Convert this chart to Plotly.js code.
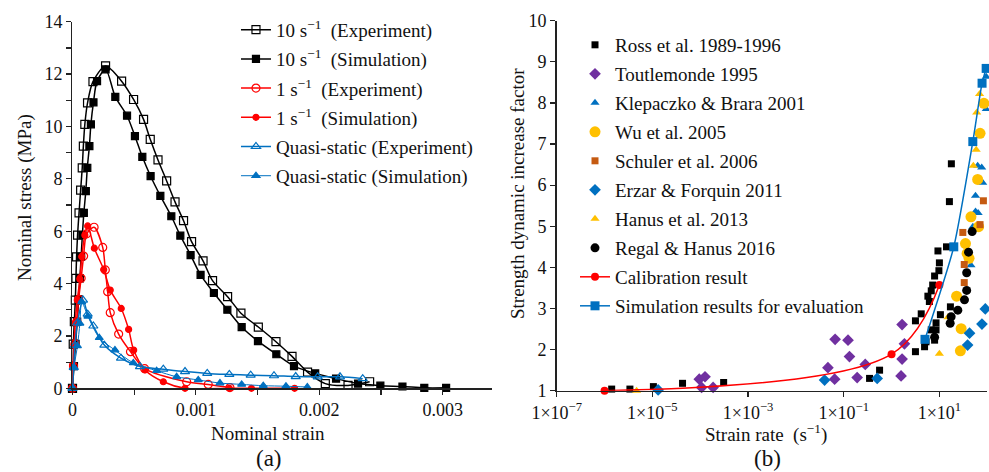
<!DOCTYPE html>
<html>
<head>
<meta charset="utf-8">
<script src="https://cdn.plot.ly/plotly-3.0.1.min.js"></script>
<style>html,body{margin:0;padding:0;background:#fff}#chart{width:989px;height:472px}</style>
</head>
<body>
<div id="chart"></div>
<script>
// ---------- Panel (a): nominal stress vs nominal strain ----------
const exp10_x = [0, 0.000006, 0.000015, 0.000023, 0.000028, 0.000033, 0.000041, 0.000053, 0.000066, 0.000079, 0.000088, 0.0001, 0.000122, 0.000166, 0.000268, 0.000398, 0.000495, 0.000576, 0.00063, 0.000693, 0.000763, 0.000831, 0.0009, 0.000965, 0.001058, 0.001135, 0.001257, 0.001365, 0.001506, 0.001649, 0.001779, 0.001905, 0.002049, 0.002233, 0.002408];
const exp10_y = [0, 1.69, 2.55, 3.37, 4.2, 5.02, 5.85, 6.7, 7.57, 8.42, 9.25, 10.08, 10.9, 11.71, 12.31, 11.73, 11.03, 10.27, 9.51, 8.72, 7.92, 7.12, 6.4, 5.6, 4.87, 4.11, 3.5, 2.87, 2.34, 1.78, 1.22, 0.62, 0.18, 0.11, 0.25];
const sim10_x = [0, 0.000012, 0.000025, 0.000038, 0.00005, 0.00006, 0.00007, 0.00008, 0.000092, 0.000108, 0.00012, 0.000137, 0.000149, 0.00017, 0.000199, 0.000268, 0.000347, 0.000442, 0.000506, 0.000566, 0.000633, 0.000712, 0.000801, 0.000874, 0.000957, 0.001038, 0.001146, 0.001255, 0.001371, 0.001503, 0.001652, 0.001795, 0.001967, 0.002136, 0.002314, 0.002495, 0.002674, 0.002851, 0.003028];
const sim10_y = [0, 0.85, 1.7, 2.55, 3.4, 4.2, 5.03, 5.85, 6.7, 7.53, 8.42, 9.25, 10.08, 10.92, 11.73, 12.18, 11.13, 10.41, 9.63, 8.84, 8.1, 7.35, 6.57, 5.83, 5.09, 4.33, 3.64, 3.0, 2.34, 1.8, 1.3, 0.85, 0.57, 0.37, 0.18, 0.1, 0.07, 0.02, 0.02];
const exp1_x = [0, 0.000008, 0.00002, 0.000035, 0.00005, 0.00007, 0.00009, 0.000115, 0.000175, 0.000245, 0.000266, 0.000285, 0.000306, 0.000374, 0.00047, 0.000585, 0.000925, 0.0011, 0.001276];
const exp1_y = [0, 0.85, 1.7, 2.55, 3.4, 4.2, 5.05, 5.9, 6.15, 5.38, 4.52, 3.69, 2.89, 2.07, 1.4, 0.75, 0.25, 0.15, 0.03];
const sim1_x = [0, 0.000002, 0.000012, 0.000022, 0.000039, 0.00006, 0.000075, 0.0001, 0.000123, 0.000177, 0.000253, 0.000306, 0.000395, 0.000455, 0.000496, 0.000588, 0.000736, 0.000912, 0.001271, 0.00145, 0.0018];
const sim1_y = [0, 0.9, 1.65, 2.5, 3.37, 4.17, 5.03, 5.85, 6.2, 5.35, 4.54, 3.75, 3.05, 2.25, 1.46, 0.7, 0.25, 0.0, 0.0, 0.0, 0.0];
const expQS_x = [0, 0.00001, 0.00002, 0.00004, 0.000085, 0.000123, 0.000169, 0.000258, 0.000393, 0.000547, 0.000736, 0.000912, 0.001092, 0.001271, 0.001444, 0.001633, 0.001809, 0.001987, 0.002168, 0.002352];
const expQS_y = [0, 0.8, 1.65, 2.5, 3.37, 2.83, 2.38, 1.65, 1.15, 0.83, 0.73, 0.64, 0.57, 0.53, 0.5, 0.48, 0.45, 0.44, 0.44, 0.37];
const simQS_x = [0, 0.000012, 0.00004, 0.00006, 0.000075, 0.000125, 0.000217, 0.000344, 0.000493, 0.000682, 0.000844, 0.001019, 0.001195, 0.001371, 0.001546, 0.00173, 0.001903];
const simQS_y = [0, 0.78, 1.62, 2.48, 3.3, 2.75, 1.93, 1.46, 0.97, 0.67, 0.44, 0.32, 0.2, 0.15, 0.1, 0.08, 0.05];

const a_xtickvals = [0, 0.001, 0.002, 0.003];
const a_xticktext = ['0', '0.001', '0.002', '0.003'];

// ---------- Panel (b): DIF vs strain rate ----------
const ross_x = [1.41e-6, 3.39e-6, 1.05e-5, 4.27e-5, 3.09e-4, 0.347, 0.562, 3.16, 4.9, 5.25, 7.94, 6.76, 8.51, 8.51, 3.16, 4.17, 10.5, 17.0, 6.17, 5.75, 6.76, 7.24, 7.94, 9.77, 10.0, 9.33, 14.1, 16.2, 17.8];
const ross_y = [1.04, 1.04, 1.10, 1.18, 1.20, 1.30, 1.50, 1.95, 2.07, 2.19, 2.23, 2.48, 2.48, 2.65, 2.70, 2.87, 2.85, 3.04, 3.17, 3.30, 3.43, 3.57, 3.79, 3.92, 4.11, 4.40, 4.50, 5.60, 6.52];
const tout_x = [9.55e-5, 1.26e-4, 1.07e-4, 1.86e-4, 0.0468, 0.0646, 0.0661, 0.123, 0.132, 0.191, 0.282, 1.66, 1.86, 1.66, 1.58];
const tout_y = [1.28, 1.34, 1.08, 1.08, 1.56, 1.28, 2.25, 2.23, 1.83, 1.32, 1.64, 2.61, 2.14, 1.77, 1.36];
const klep_x = [95.5, 95.5, 63.1, 76.7, 80.5, 56.9, 56.9, 64.6, 50.1, 45.7];
const klep_y = [8.64, 7.85, 6.47, 6.43, 6.06, 5.74, 5.36, 5.32, 4.99, 4.05];
const wu_x = [85.1, 70.8, 63.1, 45.7, 66.1, 35.1, 38.0, 41.7, 22.9, 28.5, 27.5];
const wu_y = [7.99, 7.26, 6.14, 5.23, 4.99, 4.58, 4.34, 4.22, 3.30, 2.51, 1.97];
const schu_x = [30.9, 33.1, 33.1, 70.8, 83.2];
const schu_y = [4.85, 4.07, 3.63, 5.04, 5.62];
const erzar_x = [1.32e-5, 0.0398, 0.501, 38.9, 42.7, 77.6, 91.2];
const erzar_y = [1.02, 1.26, 1.30, 2.11, 2.40, 2.62, 2.99];
const hanus_x = [4.68e-6, 10.0, 15.1, 51.3, 58.9, 60.3, 69.2];
const hanus_y = [1.0, 1.90, 2.79, 6.47, 6.86, 7.77, 8.22];
const regal_x = [48.4, 40.7, 37.2, 37.2, 33.5, 24.3, 17.6, 16.8, 7.94];
const regal_y = [4.87, 4.37, 3.87, 3.44, 3.21, 2.96, 2.80, 2.64, 2.30];
const calib_x = [1e-6, 1, 10];
const calib_y = [1.0, 1.89, 3.57];
const simb_x = [5, 20, 50, 78, 95];
const simb_y = [2.25, 4.5, 7.06, 8.48, 8.84];

const b_xtickvals = [1e-7, 1e-5, 1e-3, 1e-1, 1e1];
const b_xticktext = ['1×10<sup>−7</sup>', '1×10<sup>−5</sup>', '1×10<sup>−3</sup>', '1×10<sup>−1</sup>', '1×10<sup>1</sup>'];

const FONT = 'Liberation Serif, Times New Roman, serif';
const BLACK = '#000000', RED = '#FF0000', BLUE = '#0070C0', PURPLE = '#7030A0', GOLD = '#FFC000', BROWN = '#C55A11';
const TXT = '#111111';
const NB = '\u00a0';

function lineTrace(x, y, name, color, symbol, msize, lw, group) {
  return {x, y, name, type: 'scatter', mode: 'lines+markers', xaxis: 'x', yaxis: 'y',
    line: {color, width: lw, shape: 'spline', smoothing: 0.8},
    marker: {symbol, size: msize, color, line: {color, width: 1.2}},
    cliponaxis: false, legend: 'legend', legendgroup: group};
}
function pts(x, y, name, color, symbol, msize, group) {
  return {x, y, name, type: 'scatter', mode: 'markers', xaxis: 'x2', yaxis: 'y2',
    marker: {symbol, size: msize, color, line: {width: 0}},
    cliponaxis: false, legend: 'legend2', legendgroup: group};
}

const traces = [
  lineTrace(exp10_x, exp10_y, '10 s<sup>−1</sup>' + NB + NB + '(Experiment)', BLACK, 'square-open', 8, 1.5, 'a1'),
  lineTrace(sim10_x, sim10_y, '10 s<sup>−1</sup>' + NB + NB + '(Simulation)', BLACK, 'square', 7, 1.5, 'a2'),
  lineTrace(exp1_x, exp1_y, '1 s<sup>−1</sup>' + NB + NB + '(Experiment)', RED, 'circle-open', 8, 1.5, 'a3'),
  lineTrace(sim1_x, sim1_y, '1 s<sup>−1</sup>' + NB + NB + '(Simulation)', RED, 'circle', 6, 1.5, 'a4'),
  lineTrace(expQS_x, expQS_y, 'Quasi-static (Experiment)', BLUE, 'triangle-up-open', 8, 1.5, 'a5'),
  lineTrace(simQS_x, simQS_y, 'Quasi-static (Simulation)', BLUE, 'triangle-up', 7, 1, 'a6'),
  pts(ross_x, ross_y, 'Ross et al. 1989-1996', BLACK, 'square', 7, 'b1'),
  pts(tout_x, tout_y, 'Toutlemonde 1995', PURPLE, 'diamond', 9, 'b2'),
  pts(klep_x, klep_y, 'Klepaczko &amp; Brara 2001', BLUE, 'triangle-up', 8, 'b3'),
  pts(wu_x, wu_y, 'Wu et al. 2005', GOLD, 'circle', 11, 'b4'),
  pts(schu_x, schu_y, 'Schuler et al. 2006', BROWN, 'square', 7, 'b5'),
  pts(erzar_x, erzar_y, 'Erzar &amp; Forquin 2011', BLUE, 'diamond', 9, 'b6'),
  pts(hanus_x, hanus_y, 'Hanus et al. 2013', GOLD, 'triangle-up', 8, 'b7'),
  pts(regal_x, regal_y, 'Regal &amp; Hanus 2016', BLACK, 'circle', 9, 'b8'),
  {x: calib_x, y: calib_y, name: 'Calibration result', type: 'scatter', mode: 'lines+markers', xaxis: 'x2', yaxis: 'y2',
   line: {color: RED, width: 1.5, shape: 'spline', smoothing: 1}, marker: {symbol: 'circle', size: 8, color: RED},
   cliponaxis: false, legend: 'legend2', legendgroup: 'b9'},
  {x: simb_x, y: simb_y, name: 'Simulation results for evaluation', type: 'scatter', mode: 'lines+markers', xaxis: 'x2', yaxis: 'y2',
   line: {color: BLUE, width: 1.5, shape: 'spline', smoothing: 0.6}, marker: {symbol: 'square', size: 9, color: BLUE},
   cliponaxis: false, legend: 'legend2', legendgroup: 'b10'}
];

const axisCommon = {showgrid: false, zeroline: false, showline: true, linecolor: '#222', linewidth: 1.5,
  ticks: 'outside', ticklen: 5, tickwidth: 1.2, tickcolor: '#222',
  tickfont: {family: FONT, size: 18, color: TXT}, automargin: false};
const titleFont = {family: FONT, size: 19, color: TXT};
const minorTicks = {ticks: 'outside', ticklen: 5, tickwidth: 1.2, tickcolor: '#222', showgrid: false};

function note(text, px, py, size, angle) {
  return {text, x: px / 989, y: 1 - py / 472, xref: 'paper', yref: 'paper', xanchor: 'center', yanchor: 'middle',
    showarrow: false, textangle: angle || 0, font: {family: FONT, size, color: TXT}};
}

const layout = {
  width: 989, height: 472,
  margin: {l: 0, r: 0, t: 0, b: 0},
  paper_bgcolor: '#fff', plot_bgcolor: '#fff',
  font: {family: FONT, size: 19, color: TXT},
  xaxis: Object.assign({}, axisCommon, {domain: [0.0733, 0.4975], range: [0, 0.0034], tickmode: 'array',
    tickvals: a_xtickvals, ticktext: a_xticktext, anchor: 'y',
    minor: Object.assign({tickmode: 'linear', tick0: 0, dtick: 0.0005}, minorTicks)}),
  yaxis: Object.assign({}, axisCommon, {domain: [0.1773, 0.954], range: [0, 14], tickmode: 'linear', tick0: 0, dtick: 2, anchor: 'x',
    minor: Object.assign({tickmode: 'linear', tick0: 0, dtick: 1}, minorTicks)}),
  xaxis2: Object.assign({}, axisCommon, {domain: [0.5629, 0.9982], type: 'log', range: [-7, 2], tickmode: 'array',
    tickvals: b_xtickvals, ticktext: b_xticktext, anchor: 'y2'}),
  yaxis2: Object.assign({}, axisCommon, {domain: [0.1722, 0.9561], range: [1, 10], dtick: 1, tick0: 1, anchor: 'x2'}),
  legend: {x: 0.2386, y: 0.977, xanchor: 'left', yanchor: 'top', bgcolor: 'rgba(0,0,0,0)', borderwidth: 0,
    font: {family: FONT, size: 19, color: TXT}, tracegroupgap: 1.5, traceorder: 'grouped'},
  legend2: {x: 0.5814, y: 0.945, xanchor: 'left', yanchor: 'top', bgcolor: 'rgba(0,0,0,0)', borderwidth: 0,
    font: {family: FONT, size: 19, color: TXT}, tracegroupgap: 1.3, traceorder: 'grouped'},
  showlegend: true,
  annotations: [
    note('Nominal strain', 268, 433, 19),
    note('Nominal stress (MPa)', 25, 198, 19, -90),
    note('Strain rate' + NB + NB + '(s<sup>−1</sup>)', 766, 433, 19),
    note('Strength dynamic increase factor', 517, 194, 19, -90),
    note('(a)', 269, 458, 23),
    note('(b)', 767, 458, 23)
  ]
};

Plotly.newPlot('chart', traces, layout, {displayModeBar: false, staticPlot: true});
</script>
</body>
</html>
